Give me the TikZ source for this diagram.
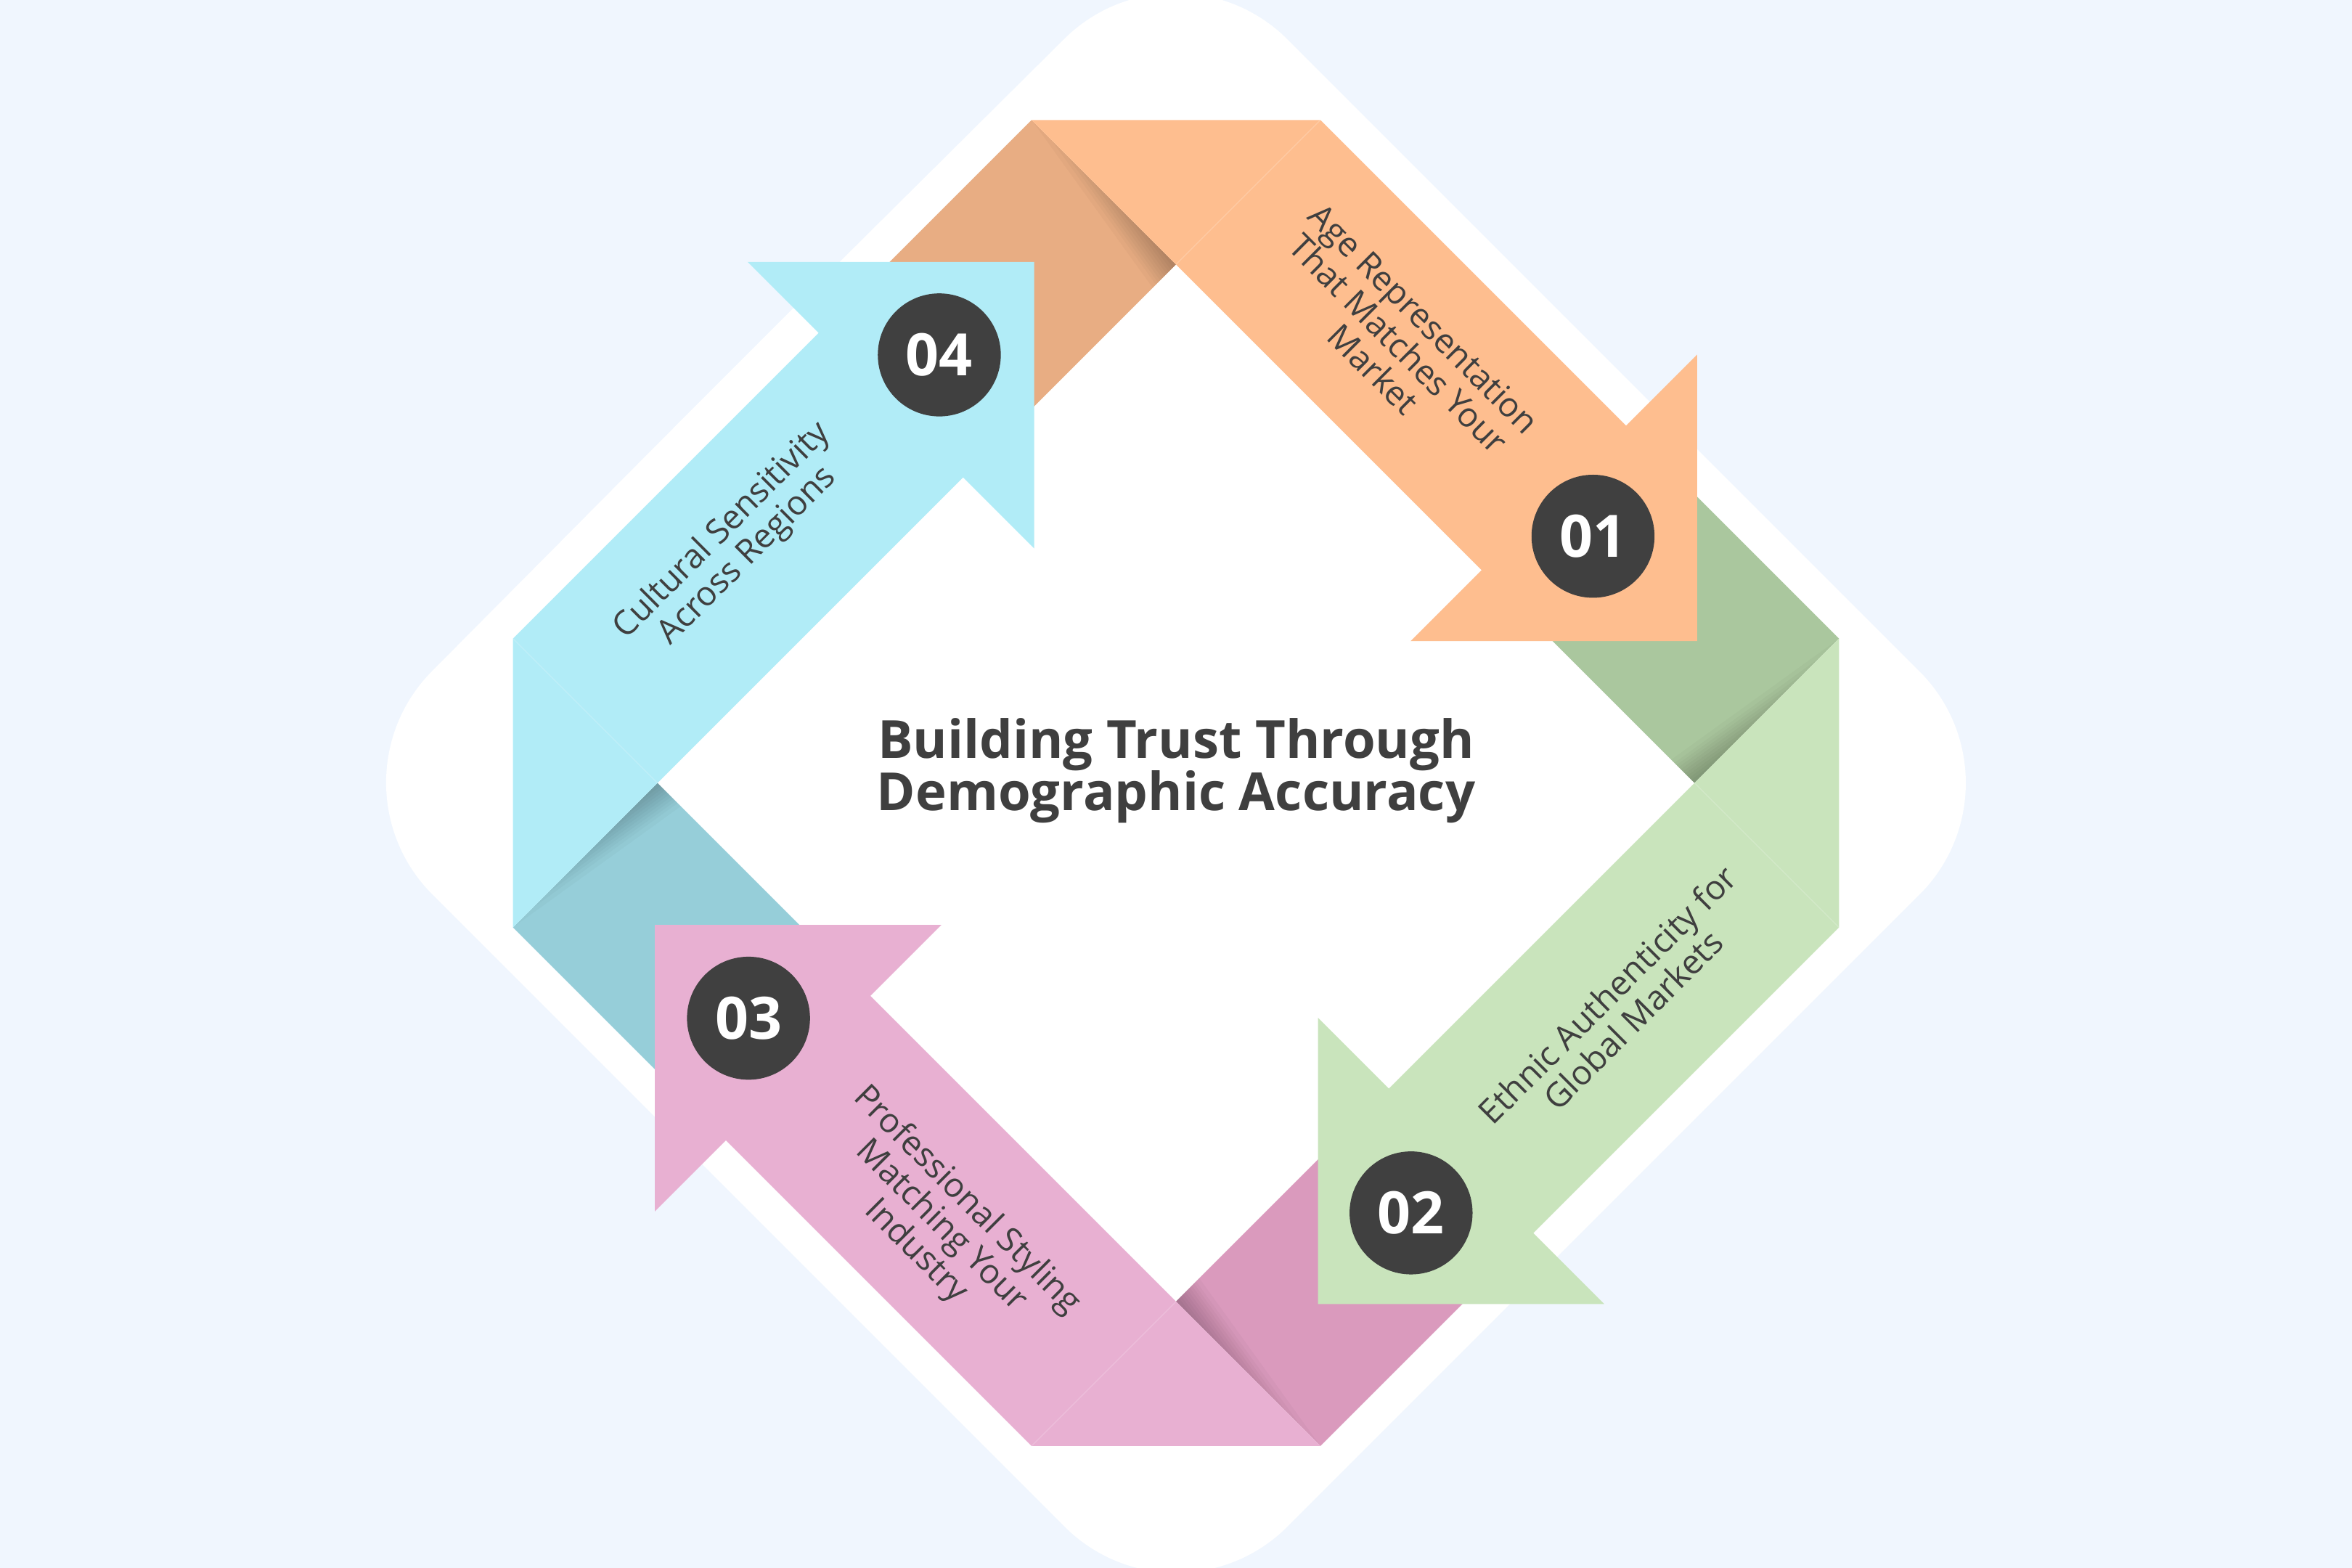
\documentclass[tikz,border=0pt]{standalone}
\usepackage{fontspec}
\setmainfont{Open Sans}
\definecolor{bg}{HTML}{F0F6FE}
\definecolor{orA}{HTML}{FEBE8F}
\definecolor{orB}{HTML}{E8AD83}
\definecolor{grA}{HTML}{C9E4BC}
\definecolor{grB}{HTML}{AAC79E}
\definecolor{piA}{HTML}{E8B0D2}
\definecolor{piB}{HTML}{DA9ABD}
\definecolor{cyA}{HTML}{B1ECF7}
\definecolor{cyB}{HTML}{96CED9}
\definecolor{ink}{HTML}{3F3F3F}
\definecolor{disc}{HTML}{404040}
% folded back of a ribbon (drawn in the frame of the top corner)
\newcommand\RibBack[1]{%
  \fill[#1] (-96.3,-442) -- (0,-345.7) -- (-96.3,-249.4) -- (-192.6,-345.7) -- cycle;
  \foreach \l/\w in {20/3, 32/5, 44/7, 56/9, 68/11, 80/13, 92/15, 104/17, 118/19, 136/22}{%
    \fill[black, fill opacity=0.024] (0,-345.7) -- ({-0.7071*\l},{-345.7-0.7071*\l}) -- ({-0.7071*\w},{-345.7+0.7071*\w}) -- cycle;
  }%
}
% front of a ribbon arrow
\newcommand\RibFront[1]{%
  \fill[#1] (-96.3,-442) -- (96.3,-442) -- (300.05,-238.25) -- (347.4,-285.6) -- (347.4,-94.6) -- (156.4,-94.6) -- (203.75,-141.95) -- cycle;
  \draw[white, opacity=0.2, line width=0.6pt] (96.3,-442) -- (0,-345.7);
}
\begin{document}
\begin{tikzpicture}[x=1pt,y=-1pt,
  lbl/.style={text=ink, align=center, font=\fontsize{22.5}{24}\selectfont, inner sep=0pt},
  num/.style={circle, fill=disc, minimum size=82pt, inner sep=0pt, text=white, font=\fontsize{39}{39}\selectfont\bfseries},
  ttl/.style={text=ink, font=\fontsize{35}{35}\selectfont\bfseries, anchor=base, inner sep=0pt}]
\fill[bg] (0,0) rectangle (1568,1045.33);
\useasboundingbox (0,0) rectangle (1568,1045.33);
% white rounded diamond
\fill[white, rounded corners=105pt] (497,237) -- (784,-48) -- (1354,522) -- (784,1092) -- (214,522) -- cycle;
% backs of the folds
\begin{scope}[shift={(784,522)}] \RibBack{orB} \end{scope}
\begin{scope}[shift={(784,522)}, rotate=-90] \RibBack{grB} \end{scope}
\begin{scope}[shift={(784,522)}, rotate=-180] \RibBack{piB} \end{scope}
\begin{scope}[shift={(784,522)}, rotate=-270] \RibBack{cyB} \end{scope}
% fronts
\begin{scope}[shift={(784,522)}] \RibFront{orA} \end{scope}
\begin{scope}[shift={(784,522)}, rotate=-90] \RibFront{grA} \end{scope}
\begin{scope}[shift={(784,522)}, rotate=-180] \RibFront{piA} \end{scope}
\begin{scope}[shift={(784,522)}, rotate=-270] \RibFront{cyA} \end{scope}
% number discs
\node[num] (n1) at (1062,357.5) {01};
\node[num] (n2) at (940.7,808.6) {02};
\node[num] (n3) at (499,678.8) {03};
\node[num] (n4) at (626.2,236.6) {04};
% labels
\node[lbl, rotate=-45] (l1) at (932.4,229.2) {Age Representation\\That Matches Your\\Market};
\node[lbl, rotate=45] (l2) at (1080,671.4) {Ethnic Authenticity for\\Global Markets};
\node[lbl, rotate=-45] (l3) at (627.5,817.4) {Professional Styling\\Matching Your\\Industry};
\node[lbl, rotate=45] (l4) at (490,362.4) {Cultural Sensitivity\\Across Regions};
% title
\node[ttl] (title1) at (784,505.7) {Building Trust Through};
\node[ttl] (title2) at (784,540.2) {Demographic Accuracy};
\end{tikzpicture}
\end{document}
